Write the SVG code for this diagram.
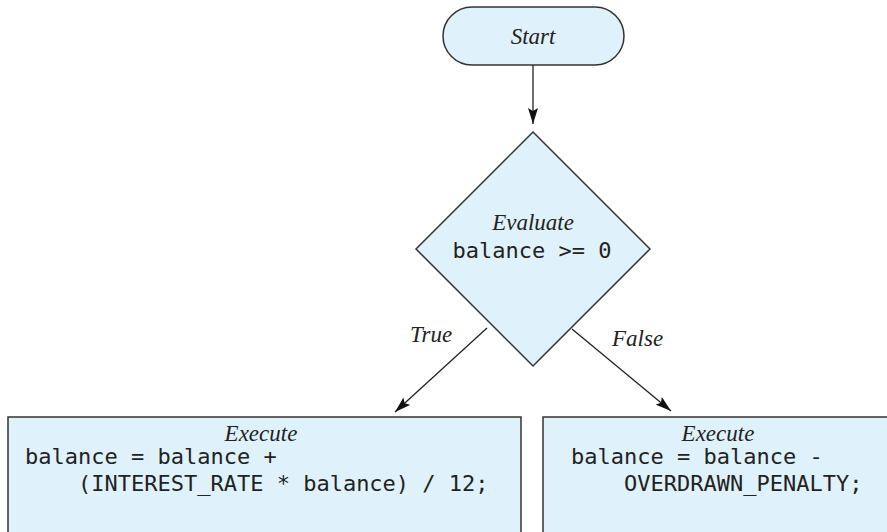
<svg xmlns="http://www.w3.org/2000/svg" width="887" height="532" viewBox="0 0 887 532">
<defs>
<marker id="ah" viewBox="0 0 16 10" refX="16" refY="5" markerWidth="16" markerHeight="10" markerUnits="userSpaceOnUse" orient="auto">
<path d="M0,0 L16,5 L0,10 L3,5 Z" fill="#111"/>
</marker>
</defs>
<style>
.shape{fill:#dff2fb;stroke:#333;stroke-width:1.5}
.lbl{font-family:"Liberation Serif",serif;font-style:italic;font-size:23px;fill:#222}
.code{font-family:"DejaVu Sans Mono",monospace;font-size:22px;fill:#222}
.conn{stroke:#222;stroke-width:1.3;fill:none}
</style>
<rect width="887" height="532" fill="#fff"/>
<g id="start">
<rect class="shape" x="443" y="7" width="181" height="58" rx="29" ry="29"/>
<text class="lbl" x="533" y="44" text-anchor="middle">Start</text>
</g>
<g id="decision">
<polygon class="shape" points="533,132 650,249 533,366 416,249"/>
<text class="lbl" x="533" y="230" text-anchor="middle">Evaluate</text>
<text class="code" x="532" y="258" text-anchor="middle">balance &gt;= 0</text>
</g>
<g id="true-box">
<rect class="shape" x="8" y="417" width="513" height="130"/>
<text class="lbl" x="261" y="441" text-anchor="middle">Execute</text>
<text class="code" x="25" y="464" xml:space="preserve">balance = balance +</text>
<text class="code" x="25" y="491" xml:space="preserve">    (INTEREST_RATE * balance) / 12;</text>
</g>
<g id="false-box">
<rect class="shape" x="543" y="417" width="360" height="130"/>
<text class="lbl" x="718" y="441" text-anchor="middle">Execute</text>
<text class="code" x="571" y="464" xml:space="preserve">balance = balance -</text>
<text class="code" x="571" y="491" xml:space="preserve">    OVERDRAWN_PENALTY;</text>
</g>
<g id="connectors">
<line class="conn" x1="533" y1="65" x2="533" y2="124" marker-end="url(#ah)"/>
<line class="conn" x1="487" y1="328" x2="395" y2="412" marker-end="url(#ah)"/>
<line class="conn" x1="572" y1="329" x2="671" y2="411" marker-end="url(#ah)"/>
<text class="lbl" x="410" y="342">True</text>
<text class="lbl" x="612" y="346">False</text>
</g>
</svg>
